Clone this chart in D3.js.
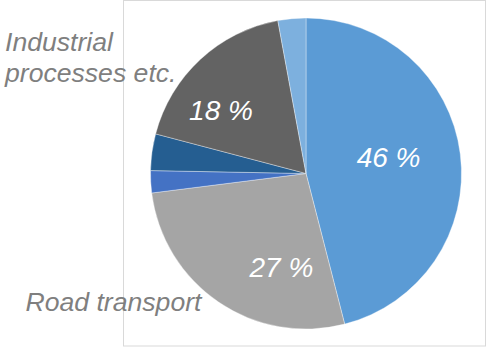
<!DOCTYPE html>
<html>
<head>
<meta charset="utf-8">
<script src="https://cdn.jsdelivr.net/npm/d3@7/dist/d3.min.js"></script>
<style>
  html, body { margin: 0; padding: 0; background: #fff; }
  svg { display: block; }
  text { font-family: "Liberation Sans", Arial, sans-serif; font-style: italic; }
</style>
</head>
<body>
<script>
// Emission shares by source, clockwise from 12 o'clock
const categories = ["Energy", "Road transport", "Other transport", "Other", "Industrial processes etc.", "Other sources"];
const shares = [46, 27, 2.3, 3.8, 18, 2.9];
const colors = ["#5B9BD5", "#A5A5A5", "#4472C4", "#255E91", "#636363", "#7DB0DE"];
// Percentage labels shown inside the pie
const pctLabels = ["46 %", "27 %", null, null, "18 %", null];
// Category names written beside the pie
const sideLabels = [null, ["Road transport"], null, null, ["Industrial", "processes etc."], null];

const W = 486, H = 347;
const cx = 306, cy = 173.5, R = 155.5;

const svg = d3.select("body").append("svg")
  .attr("width", W).attr("height", H);

// plot-area frame
svg.append("rect")
  .attr("x", 123.5).attr("y", 0.5)
  .attr("width", 362).attr("height", 345.5)
  .attr("fill", "none").attr("stroke", "#D9D9D9").attr("stroke-width", 1);

const data = categories.map((c, i) => ({ name: c, value: shares[i], color: colors[i], pct: pctLabels[i], side: sideLabels[i] }));

const pie = d3.pie().sort(null).value(d => d.value).startAngle(0).endAngle(2 * Math.PI);
const arc = d3.arc().innerRadius(0).outerRadius(R);
const arcs = pie(data);

const g = svg.append("g").attr("transform", `translate(${cx},${cy})`);
g.selectAll("path.slice").data(arcs).join("path")
  .attr("class", "slice")
  .attr("d", arc)
  .attr("fill", d => d.data.color)
  .attr("stroke", "#ffffff")
  .attr("stroke-opacity", 0.45)
  .attr("stroke-width", 0.8);

// inside labels: placed along each slice's bisector
const pctPlacement = {
  "46 %": { r: 84, dAngle: -3.5, dy: 9.5 },
  "27 %": { r: 97, dAngle: -19.5, dy: 9.5 },
  "18 %": { r: 106, dAngle: -10.5, dy: 9.5 }
};
g.selectAll("text.pct").data(arcs.filter(d => d.data.pct)).join("text")
  .attr("class", "pct")
  .attr("text-anchor", "middle")
  .attr("fill", "#ffffff")
  .attr("font-size", 28)
  .attr("x", d => {
    const p = pctPlacement[d.data.pct];
    const a = (d.startAngle + d.endAngle) / 2 + p.dAngle * Math.PI / 180;
    return p.r * Math.sin(a);
  })
  .attr("y", d => {
    const p = pctPlacement[d.data.pct];
    const a = (d.startAngle + d.endAngle) / 2 + p.dAngle * Math.PI / 180;
    return -p.r * Math.cos(a) + p.dy;
  })
  .text(d => d.data.pct);

// category names outside the pie, on the left
const sidePlacement = {
  "Road transport": { x: 25.5, y: 310.5 },
  "Industrial processes etc.": { x: 5, y: 51 }
};
const sideG = svg.selectAll("text.side").data(data.filter(d => d.side)).join("text")
  .attr("class", "side")
  .attr("fill", "#7F7F7F")
  .attr("font-size", 26.6)
  .attr("x", d => sidePlacement[d.name].x)
  .attr("y", d => sidePlacement[d.name].y);
sideG.selectAll("tspan").data(d => d.side.map(l => ({ line: l, x: sidePlacement[d.name].x }))).join("tspan")
  .attr("x", t => t.x)
  .attr("dy", (t, i) => i === 0 ? 0 : 31)
  .text(t => t.line);
</script>
</body>
</html>
